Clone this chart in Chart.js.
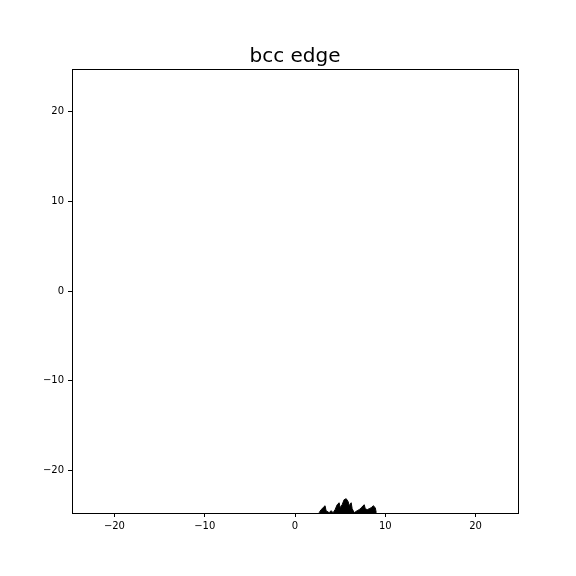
<!DOCTYPE html>
<html>
<head>
<meta charset="utf-8">
<script src="https://cdn.jsdelivr.net/npm/chart.js@4.4.0/dist/chart.umd.min.js"></script>
<style>
html,body{margin:0;padding:0;background:#fff;}
canvas{display:block;}
</style>
</head>
<body>
<canvas id="c" width="576" height="576"></canvas>
<script>
const xValues = [2.67, 2.89, 3.11, 3.33, 3.44, 3.78, 4.0, 4.22, 4.44, 4.67, 4.89, 5.0, 5.22, 5.44, 5.67, 5.89, 6.0, 6.22, 6.33, 6.56, 6.89, 7.11, 7.33, 7.67, 7.78, 8.0, 8.22, 8.44, 8.67, 8.89, 9.0];
const yValues = [-24.67, -24.33, -24.11, -23.89, -24.44, -24.67, -24.44, -24.67, -24.33, -23.78, -23.56, -24.11, -23.78, -23.22, -23.11, -23.44, -23.89, -23.56, -24.22, -24.67, -24.44, -24.33, -24.11, -23.78, -24.22, -24.33, -24.22, -24.11, -23.89, -24.11, -24.67];
const xTicks = [-20, -10, 0, 10, 20];
const yTicks = [-20, -10, 0, 10, 20];
const axisLimit = 24.7;
const titleText = "bcc edge";

const points = xValues.map((x, i) => ({x: x, y: yValues[i]}));
const fmt = v => String(v).replace('-', '\u2212');

const frame = {
  id: 'frame',
  afterDraw(chart) {
    const a = chart.chartArea, ctx = chart.ctx;
    ctx.save();
    ctx.strokeStyle = '#000';
    ctx.lineWidth = 1;
    ctx.strokeRect(Math.round(a.left) + 0.5, Math.round(a.top) + 0.5, Math.round(a.right - a.left), Math.round(a.bottom - a.top));
    ctx.restore();
  }
};

new Chart(document.getElementById('c'), {
  type: 'scatter',
  data: {
    datasets: [{
      data: points,
      showLine: true,
      fill: 'start',
      borderColor: '#000',
      backgroundColor: '#000',
      borderWidth: 1,
      pointRadius: 0,
      tension: 0
    }]
  },
  options: {
    responsive: false,
    animation: false,
    layout: {padding: {left: 0, right: 58, top: 0, bottom: 33}},
    plugins: {
      legend: {display: false},
      tooltip: {enabled: false},
      title: {
        display: true,
        text: titleText,
        fullSize: false,
        color: '#000',
        font: {family: 'DejaVu Sans', size: 20, weight: 'normal'},
        padding: {top: 45, bottom: 0}
      }
    },
    scales: {
      x: {
        type: 'linear',
        min: -axisLimit, max: axisLimit,
        afterBuildTicks: s => { s.ticks = xTicks.map(v => ({value: v})); },
        afterFit: s => { s.height = 30; },
        grid: {drawOnChartArea: false, tickLength: 4, color: '#000'},
        border: {display: true, color: '#000'},
        ticks: {color: '#000', padding: 3, maxRotation: 0, font: {family: 'DejaVu Sans', size: 10}, callback: v => fmt(v)}
      },
      y: {
        type: 'linear',
        min: -axisLimit, max: axisLimit,
        afterBuildTicks: s => { s.ticks = yTicks.map(v => ({value: v})); },
        afterFit: s => { s.width = 72; },
        grid: {drawOnChartArea: false, tickLength: 4, color: '#000'},
        border: {display: true, color: '#000'},
        ticks: {color: '#000', padding: 4, font: {family: 'DejaVu Sans', size: 10}, callback: v => fmt(v)}
      }
    }
  },
  plugins: [frame]
});
</script>
</body>
</html>
